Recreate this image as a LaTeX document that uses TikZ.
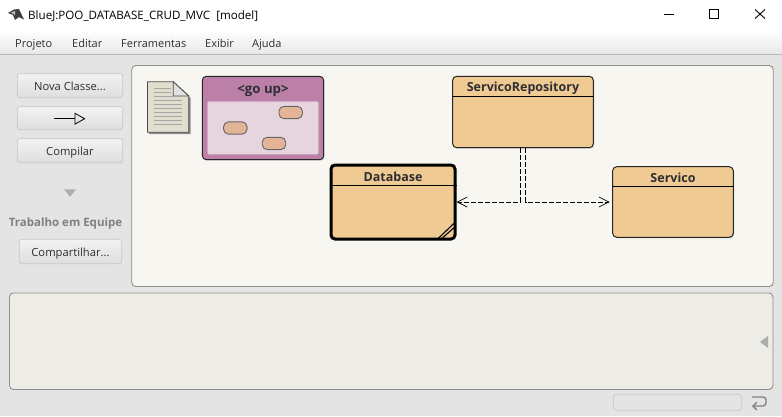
\documentclass[tikz,border=0pt]{standalone}
\usepackage{fontspec}
\setmainfont{Open Sans}
\usetikzlibrary{arrows.meta,positioning,calc,shadows}
\definecolor{WinGrey}{HTML}{E4E4E4}
\definecolor{PanelBack}{HTML}{F7F6F1}
\definecolor{TermBack}{HTML}{EDECE7}
\definecolor{EdgeGrey}{HTML}{8E8E8E}
\definecolor{ClassFill}{HTML}{EFCA93}
\definecolor{PkgFill}{HTML}{BC80A8}
\definecolor{PkgInner}{HTML}{E6D5DF}
\definecolor{PkgClass}{HTML}{E3B496}
\definecolor{DocFill}{HTML}{E2DECF}
\definecolor{InkDark}{HTML}{2E2E33}
\tikzset{
  panelbox/.style={draw=EdgeGrey,line width=.9pt,rounded corners=4pt,inner sep=0pt},
  btnbox/.style={draw=black!22,line width=.7pt,rounded corners=2.5pt,top color=black!5,bottom color=black!13,inner sep=0pt,font=\fontsize{11.2}{13}\selectfont,text=InkDark,text height=10pt,text depth=0pt},
  classbox/.style={draw=black!85,line width=1pt,fill=ClassFill,rounded corners=4pt,inner sep=0pt,
    drop shadow={opacity=.3,shadow xshift=1pt,shadow yshift=-1pt}},
  classname/.style={font=\fontsize{12.5}{14}\selectfont\bfseries,text=InkDark,inner sep=0pt,text height=10.5pt,text depth=0pt},
  minipkg/.style={draw=black!60,line width=.9pt,fill=PkgClass,rounded corners=5pt,minimum width=23.5pt,minimum height=12.3pt,inner sep=0pt},
  menuitem/.style={font=\fontsize{11}{13}\selectfont,text=InkDark,inner sep=0pt,anchor=base west},
  depend/.style={dashed,dash pattern=on 5pt off 2pt,line width=.9pt,-{Straight Barb[length=10pt,width=10pt,line width=.7pt]}}
}
\begin{document}
\begin{tikzpicture}[x=1pt,y=-1pt]
\useasboundingbox (0,0) rectangle (782,416);
\fill[WinGrey] (0,0) rectangle (782,416);
\fill[white] (0,0) rectangle (782,30);
\shade[top color=white,bottom color=black!9] (0,30) rectangle (782,54);
\draw[black!28,line width=.8pt] (0,54.5) -- (782,54.5);

\fill[black!75] (8,13) -- (14,9.5) -- (19,9) -- (24,19.5) -- (19,17) -- (15,20) -- (13,15) -- cycle;
\fill[black!25] (11,12.5) -- (15,11) -- (15,15) -- cycle;
\node[font=\fontsize{11.6}{14}\selectfont,text=black,inner sep=0pt,anchor=base west] (wintitle) at (28,19) {BlueJ:POO\_DATABASE\_CRUD\_MVC\ \ [model]};
\draw[black,line width=.9pt] (664,14.5) -- (674,14.5);
\draw[black,line width=.9pt] (709.5,9.5) rectangle (718.5,18.5);
\draw[black,line width=.9pt] (755,9.5) -- (765,18.5) (765,9.5) -- (755,18.5);

\node[menuitem] (mProjeto) at (15,47.5) {Projeto};
\node[menuitem] (mEditar) at (72,47.5) {Editar};
\node[menuitem] (mFerr) at (121,47.5) {Ferramentas};
\node[menuitem] (mExibir) at (205,47.5) {Exibir};
\node[menuitem] (mAjuda) at (252,47.5) {Ajuda};

\node[btnbox,minimum width=105.5pt,minimum height=24pt] (btnNova) at (70,85.7) {Nova Classe...};
\node[btnbox,minimum width=105.5pt,minimum height=23pt] (btnSeta) at (70,118.2) {};
\node[btnbox,minimum width=105.5pt,minimum height=24pt] (btnCompilar) at (70,150.7) {Compilar};
\coordinate (setaIni) at (54,118.7);
\coordinate (setaFim) at (85.5,118.7);
\draw[line width=.8pt,-{Triangle[open,length=11pt,width=12pt,line width=.8pt]}] (setaIni) -- (setaFim);
\fill[black!32] (64,189.3) -- (76,189.3) -- (70,196.7) -- cycle;
\node[font=\fontsize{11.5}{13}\selectfont\bfseries,text=black!50,inner sep=0pt,text height=10pt,text depth=0pt] (equipe) at (65.5,221.7) {Trabalho em Equipe};
\node[btnbox,minimum width=102.5pt,minimum height=24.4pt] (btnPartilha) at (70.5,251.5) {Compartilhar...};

\node[panelbox,fill=PanelBack,minimum width=641.5pt,minimum height=221pt] (diagrama) at (452.5,176) {};
\node[panelbox,fill=TermBack,minimum width=763.5pt,minimum height=96.5pt] (terminal) at (391.2,341.2) {};
\fill[black!32] (768,336) -- (768,348) -- (760,342) -- cycle;
\node[draw=black!22,line width=.7pt,rounded corners=3pt,inner sep=0pt,minimum width=128.4pt,minimum height=16pt] (progresso) at (677.5,402.3) {};
\draw[black!50,line width=1.3pt,rounded corners=3pt,-{Straight Barb[length=4pt,width=8pt]}] (752,397) -- (766,397) -- (766,406) -- (752,406);

\fill[black!45] (149,83.5) -- (175,83.5) -- (190.5,98) -- (190.5,134) -- (149,134) -- cycle;
\draw[black!70,line width=.8pt,fill=DocFill] (147.5,81.8) -- (173.3,81.8) -- (188.7,96) -- (188.7,132.3) -- (147.5,132.3) -- cycle;
\draw[black!70,line width=.8pt,fill=black!12] (173.3,81.8) -- (173.3,96) -- (188.7,96) -- cycle;
\foreach \yy in {88,92,96,100,104,108,112,116,120,124}{
  \draw[black!35,line width=.6pt] (153.5,\yy) -- ({\yy<96 ? 171 : 182},\yy);
}

\node[draw=black!85,line width=1pt,fill=PkgFill,rounded corners=4pt,minimum width=121.4pt,minimum height=83.4pt,inner sep=0pt,
  drop shadow={opacity=.3,shadow xshift=1pt,shadow yshift=-1pt}] (pkgUp) at (263,118) {};
\node[classname,font=\fontsize{13.2}{14}\selectfont\bfseries] (pkgNome) at (263,88.5) {<go up>};
\node[draw=PkgFill!60!PkgInner,line width=.6pt,fill=PkgInner,rounded corners=1.5pt,minimum width=111.4pt,minimum height=53pt,inner sep=0pt] (pkgDentro) at (263,127.8) {};
\node[minipkg] (miniA) at (290.7,112.5) {};
\node[minipkg] (miniB) at (235.3,128) {};
\node[minipkg] (miniC) at (274,143.5) {};

\node[classbox,minimum width=140.6pt,minimum height=71.4pt] (repo) at (523,112) {};
\node[classname] (repoNome) at ([yshift=-10.7pt]repo.north) {ServicoRepository};
\draw[line width=.9pt] ([yshift=-21pt]repo.north west) -- ([yshift=-21pt]repo.north east);

\node[classbox,draw=black,line width=3pt,minimum width=124pt,minimum height=74pt] (db) at (393,202) {};
\node[classname] (dbNome) at ([yshift=-12.5pt]db.north) {Database};
\draw[line width=.9pt] ([yshift=-22.3pt]db.north west) -- ([yshift=-22.3pt]db.north east);
\draw[line width=1.1pt] ([xshift=-18pt,yshift=2.3pt]db.south east) -- ([xshift=-2pt,yshift=17.7pt]db.south east);
\draw[line width=1.1pt] ([xshift=-14.3pt,yshift=2.3pt]db.south east) -- ([xshift=-2pt,yshift=13.3pt]db.south east);

\node[classbox,minimum width=120.6pt,minimum height=70.6pt] (serv) at (673,202) {};
\node[classname] (servNome) at ([yshift=-10.7pt]serv.north) {Servico};
\draw[line width=.9pt] ([yshift=-20.6pt]serv.north west) -- ([yshift=-20.6pt]serv.north east);

\draw[depend] ([xshift=-2.6pt]repo.south) |- (db.east);
\draw[depend] ([xshift=2.6pt]repo.south) |- ([xshift=-2.5pt]serv.west);
\end{tikzpicture}
\end{document}
